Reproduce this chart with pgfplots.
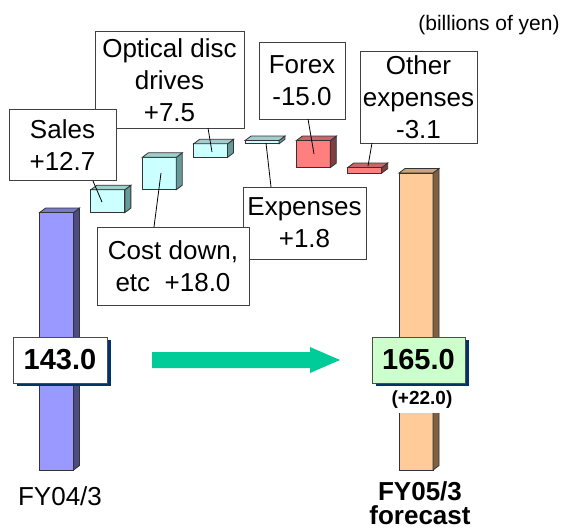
\documentclass[border=0pt]{standalone}
\usepackage{fontspec}
\setmainfont{Liberation Sans}
\usepackage{pgfplots}
\pgfplotsset{compat=1.18}
\definecolor{purpF}{HTML}{9999FF}
\definecolor{purpS}{HTML}{4C4C80}
\definecolor{purpT}{HTML}{7A7ACC}
\definecolor{cyanF}{HTML}{CCFFFF}
\definecolor{cyanS}{HTML}{669999}
\definecolor{cyanT}{HTML}{A3CCCC}
\definecolor{redF}{HTML}{FF7F7F}
\definecolor{redS}{HTML}{803F3F}
\definecolor{redT}{HTML}{CC6666}
\definecolor{orngF}{HTML}{FFCC99}
\definecolor{orngS}{HTML}{806040}
\definecolor{orngT}{HTML}{CCA37A}
\definecolor{grnF}{HTML}{CCFFCC}
\definecolor{navy}{HTML}{003366}
\definecolor{arrowc}{HTML}{00CC99}
\begin{document}
\begin{tikzpicture}
\begin{axis}[at={(0,0)}, anchor=south west, scale only axis,
  width=281pt, height=263.5pt,
  xmin=-1.1001, xmax=9.8423, ymin=-31.667, ymax=261.111,
  hide axis, clip=false]
\pgfplotsset{every axis plot/.append style={line width=0.4pt, draw=black!80}}
% FY04/3 : 0 -> 143.0
\addplot[fill=purpF] coordinates {(-0.331,0) (0.331,0) (0.331,143) (-0.331,143)} -- cycle;
\addplot[fill=purpS] coordinates {(0.331,0) (0.448,2.5) (0.448,145.5) (0.331,143)} -- cycle;
\addplot[fill=purpT] coordinates {(-0.331,143) (0.331,143) (0.448,145.5) (-0.214,145.5)} -- cycle;
% Sales +12.7
\addplot[fill=cyanF] coordinates {(0.669,143) (1.331,143) (1.331,155.7) (0.669,155.7)} -- cycle;
\addplot[fill=cyanS] coordinates {(1.331,143) (1.448,145.5) (1.448,158.2) (1.331,155.7)} -- cycle;
\addplot[fill=cyanT] coordinates {(0.669,155.7) (1.331,155.7) (1.448,158.2) (0.786,158.2)} -- cycle;
% Cost down +18.0
\addplot[fill=cyanF] coordinates {(1.669,155.7) (2.331,155.7) (2.331,173.7) (1.669,173.7)} -- cycle;
\addplot[fill=cyanS] coordinates {(2.331,155.7) (2.448,158.2) (2.448,176.2) (2.331,173.7)} -- cycle;
\addplot[fill=cyanT] coordinates {(1.669,173.7) (2.331,173.7) (2.448,176.2) (1.786,176.2)} -- cycle;
% Optical disc drives +7.5
\addplot[fill=cyanF] coordinates {(2.669,173.7) (3.331,173.7) (3.331,181.2) (2.669,181.2)} -- cycle;
\addplot[fill=cyanS] coordinates {(3.331,173.7) (3.448,176.2) (3.448,183.7) (3.331,181.2)} -- cycle;
\addplot[fill=cyanT] coordinates {(2.669,181.2) (3.331,181.2) (3.448,183.7) (2.786,183.7)} -- cycle;
% Expenses +1.8
\addplot[fill=cyanF] coordinates {(3.669,181.2) (4.331,181.2) (4.331,183) (3.669,183)} -- cycle;
\addplot[fill=cyanS] coordinates {(4.331,181.2) (4.448,183.7) (4.448,185.5) (4.331,183)} -- cycle;
\addplot[fill=cyanT] coordinates {(3.669,183) (4.331,183) (4.448,185.5) (3.786,185.5)} -- cycle;
% Forex -15.0
\addplot[fill=redF] coordinates {(4.669,168) (5.331,168) (5.331,183) (4.669,183)} -- cycle;
\addplot[fill=redS] coordinates {(5.331,168) (5.448,170.5) (5.448,185.5) (5.331,183)} -- cycle;
\addplot[fill=redT] coordinates {(4.669,183) (5.331,183) (5.448,185.5) (4.786,185.5)} -- cycle;
% Other expenses -3.1
\addplot[fill=redF] coordinates {(5.669,164.9) (6.331,164.9) (6.331,168) (5.669,168)} -- cycle;
\addplot[fill=redS] coordinates {(6.331,164.9) (6.448,167.4) (6.448,170.5) (6.331,168)} -- cycle;
\addplot[fill=redT] coordinates {(5.669,168) (6.331,168) (6.448,170.5) (5.786,170.5)} -- cycle;
% FY05/3 forecast : 0 -> 165.0
\addplot[fill=orngF] coordinates {(6.669,0) (7.331,0) (7.331,165) (6.669,165)} -- cycle;
\addplot[fill=orngS] coordinates {(7.331,0) (7.448,2.5) (7.448,167.5) (7.331,165)} -- cycle;
\addplot[fill=orngT] coordinates {(6.669,165) (7.331,165) (7.448,167.5) (6.786,167.5)} -- cycle;
\end{axis}
\begin{scope}[shift={(0pt,263.5pt)}, x=0.5pt, y=-0.5pt]
\path (0,0) rectangle (562,527);
\tikzset{box/.style={draw=black!75, line width=0.5pt, fill=white}, lead/.style={draw=black, line width=0.4pt}}
\fontsize{13}{16}\selectfont
% Optical disc drives
\draw[box] (95,31) rectangle (244,128);
\node[align=center, font=\fontsize{13}{16}\selectfont] at (169.5,80) {Optical disc\\drives\\+7.5};
\draw[lead] (208,128) -- (212,152);
% Sales
\draw[box] (9,109) rectangle (116,180);
\node[align=center, font=\fontsize{13}{16}\selectfont] at (62.5,145.5) {Sales\\+12.7};
\draw[lead] (93,181) -- (102,202);
% Expenses
\draw[box] (243,187) rectangle (366,259);
\node[align=center, font=\fontsize{13}{16}\selectfont] at (304.5,223) {Expenses\\+1.8};
\draw[lead] (271,187) -- (266,143);
% Cost down
\draw[box] (97,227) rectangle (249,305);
\node[align=center, font=\fontsize{13}{16}\selectfont] at (173,266) {Cost down,\\etc\ \ +18.0};
\draw[lead] (154,227) -- (161,173);
% Forex
\draw[box] (259,42) rectangle (345,119);
\node[align=center, font=\fontsize{13}{16}\selectfont] at (302,81) {Forex\\-15.0};
\draw[lead] (308,119) -- (314,154);
% Other expenses
\draw[box] (360,51) rectangle (477,143);
\node[align=center, font=\fontsize{13}{16}\selectfont] at (418.5,97.5) {Other\\expenses\\-3.1};
\draw[lead] (372,143) -- (368,166);
% units
\node[anchor=base, font=\fontsize{10.5}{12}\selectfont, inner sep=0pt] at (489,30) {(billions of yen)};
% arrow
\fill[arrowc] (152,352) -- (310,352) -- (310,347) -- (340,360) -- (310,373) -- (310,368) -- (152,368) -- cycle;
% 143.0
\fill[navy] (17,340) rectangle (111,386);
\draw[draw=black!70, line width=0.5pt, fill=white] (13,337) rectangle (107,383);
\node[font=\fontsize{14.5}{16}\selectfont\bfseries] at (60,360) {143.0};
% 165.0
\fill[white] (392,385) rectangle (453,413);
\fill[navy] (376,340) rectangle (469,386);
\draw[draw=black!70, line width=0.5pt, fill=grnF] (372,337) rectangle (465,383);
\node[font=\fontsize{14.5}{16}\selectfont\bfseries] at (418.5,360) {165.0};
\node[anchor=base, font=\fontsize{9.5}{11}\selectfont\bfseries, inner sep=0pt] at (422,404) {(+22.0)};
% category labels
\node[anchor=base, font=\fontsize{13}{16}\selectfont, inner sep=0pt] at (60,505) {FY04/3};
\node[anchor=base, font=\fontsize{13}{16}\selectfont\bfseries, inner sep=0pt] at (420,500) {FY05/3};
\node[anchor=base, font=\fontsize{13}{16}\selectfont\bfseries, inner sep=0pt] at (420,524) {forecast};
\end{scope}
\end{tikzpicture}
\end{document}
